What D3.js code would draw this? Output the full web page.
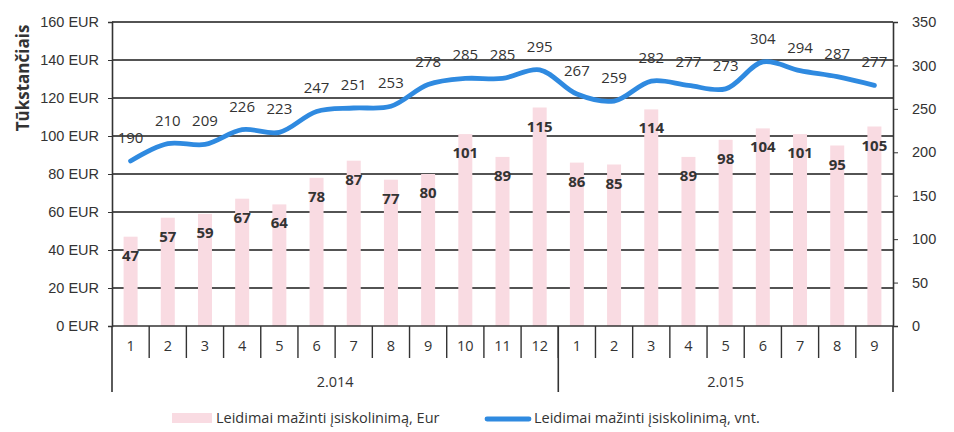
<!DOCTYPE html>
<html>
<head>
<meta charset="utf-8">
<script src="https://cdn.jsdelivr.net/npm/d3@7"></script>
<style>
  html, body { margin: 0; padding: 0; background: #fff; }
  svg { display: block; font-family: "Open Sans", Lato, sans-serif; }
</style>
</head>
<body>
<svg id="chart" width="954" height="432"></svg>
<script>
const months = ["1","2","3","4","5","6","7","8","9","10","11","12","1","2","3","4","5","6","7","8","9"];
const years = ["2.014","2.015"];
const yearCounts = [12, 9];
const eurValues = [47,57,59,67,64,78,87,77,80,101,89,115,86,85,114,89,98,104,101,95,105];
const countValues = [190,210,209,226,223,247,251,253,278,285,285,295,267,259,282,277,273,304,294,287,277];
const leftTicks = [0,20,40,60,80,100,120,140,160];
const rightTicks = [0,50,100,150,200,250,300,350];
const seriesNames = ["Leidimai mažinti įsiskolinimą, Eur", "Leidimai mažinti įsiskolinimą, vnt."];
const yTitle = "Tūkstančiais";

const svg = d3.select("#chart");
const X0 = 112, X1 = 893, YT = 22, YB = 326;
const ink = "#333";

const idx = d3.range(months.length);
const x = d3.scaleBand().domain(idx).range([X0, X1]).paddingInner(0).paddingOuter(0);
const yL = d3.scaleLinear().domain([0, 160]).range([YB, YT]);
const yR = d3.scaleLinear().domain([0, 350]).range([YB, YT]);

// gridlines
svg.append("g").selectAll("line").data(leftTicks.filter(d => d > 0)).join("line")
  .attr("x1", X0).attr("x2", X1)
  .attr("y1", d => yL(d)).attr("y2", d => yL(d))
  .attr("stroke", "#1a1a1a").attr("stroke-width", 1.5);

// bars
const barW = 14;
svg.append("g").selectAll("rect").data(eurValues).join("rect")
  .attr("x", (d, i) => x(i) + x.bandwidth() / 2 - barW / 2)
  .attr("width", barW)
  .attr("y", d => yL(d))
  .attr("height", d => YB - yL(d))
  .attr("fill", "#f9dbe2");

// left axis
const axL = svg.append("g").attr("transform", `translate(${X0},0)`)
  .call(d3.axisLeft(yL).tickValues(leftTicks).tickFormat(d => d + " EUR").tickSize(4).tickPadding(9));
axL.select(".domain").attr("stroke", ink).attr("stroke-width", 1.6);
axL.selectAll(".tick line").attr("stroke", ink);
axL.selectAll("text").attr("fill", ink).attr("font-size", 14.5);

// right axis
const axR = svg.append("g").attr("transform", `translate(${X1},0)`)
  .call(d3.axisRight(yR).tickValues(rightTicks).tickSize(5).tickPadding(14));
axR.select(".domain").attr("stroke", ink).attr("stroke-width", 1.6);
axR.selectAll(".tick line").attr("stroke", ink);
axR.selectAll("text").attr("fill", ink).attr("font-size", 14.5);

// bottom axis line
svg.append("line").attr("x1", X0).attr("x2", X1).attr("y1", YB).attr("y2", YB)
  .attr("stroke", ink).attr("stroke-width", 1.6);

// category separators
svg.append("g").selectAll("line").data(idx.slice(1)).join("line")
  .attr("x1", d => x(d)).attr("x2", d => x(d))
  .attr("y1", YB).attr("y2", YB + 32)
  .attr("stroke", ink).attr("stroke-width", 1.4);

// year separators
const yearBounds = [0, yearCounts[0], yearCounts[0] + yearCounts[1]];
svg.append("g").selectAll("line").data(yearBounds).join("line")
  .attr("x1", d => d < months.length ? x(d) : X1).attr("x2", d => d < months.length ? x(d) : X1)
  .attr("y1", YB).attr("y2", YB + 66)
  .attr("stroke", ink).attr("stroke-width", 1.6);

// month labels
svg.append("g").selectAll("text").data(months).join("text")
  .attr("x", (d, i) => x(i) + x.bandwidth() / 2)
  .attr("y", YB + 25)
  .attr("text-anchor", "middle").attr("font-size", 14.5).attr("fill", ink)
  .text(d => d);

// year labels
svg.append("g").selectAll("text").data(years).join("text")
  .attr("x", (d, i) => {
    const a = yearBounds[i], b = yearBounds[i + 1];
    const left = x(a), right = b < months.length ? x(b) : X1;
    return (left + right) / 2;
  })
  .attr("y", YB + 61)
  .attr("text-anchor", "middle").attr("font-size", 14.5).attr("fill", ink)
  .text(d => d);

// line
const line = d3.line()
  .x((d, i) => x(i) + x.bandwidth() / 2)
  .y(d => yR(d))
  .curve(d3.curveCatmullRom.alpha(0.5));
svg.append("path").datum(countValues)
  .attr("d", line)
  .attr("fill", "none").attr("stroke", "#2f8ae0").attr("stroke-width", 4.8)
  .attr("stroke-linecap", "round");

// bar labels
svg.append("g").selectAll("text").data(eurValues).join("text")
  .attr("x", (d, i) => x(i) + x.bandwidth() / 2)
  .attr("y", d => yL(d) + 24)
  .attr("text-anchor", "middle").attr("font-size", 15).attr("font-weight", "bold").attr("fill", ink)
  .text(d => d);

// line labels
svg.append("g").selectAll("text").data(countValues).join("text")
  .attr("x", (d, i) => x(i) + x.bandwidth() / 2)
  .attr("y", d => yR(d) - 18)
  .attr("text-anchor", "middle").attr("font-size", 15).attr("fill", ink)
  .text(d => d);

// y title
svg.append("text")
  .attr("transform", "translate(29,78) rotate(-90)")
  .attr("text-anchor", "middle").attr("font-size", 17).attr("font-weight", "bold").attr("fill", ink)
  .text(yTitle);

// legend
const lg = svg.append("g");
lg.append("rect").attr("x", 172).attr("y", 413).attr("width", 40).attr("height", 10).attr("fill", "#f9dbe2");
lg.append("text").attr("x", 216).attr("y", 423).attr("font-size", 14.5).attr("fill", ink).text(seriesNames[0]);
lg.append("line").attr("x1", 487).attr("x2", 529).attr("y1", 419).attr("y2", 419)
  .attr("stroke", "#2f8ae0").attr("stroke-width", 4.8).attr("stroke-linecap", "round");
lg.append("text").attr("x", 534).attr("y", 423).attr("font-size", 14.5).attr("fill", ink).text(seriesNames[1]);
</script>
</body>
</html>
